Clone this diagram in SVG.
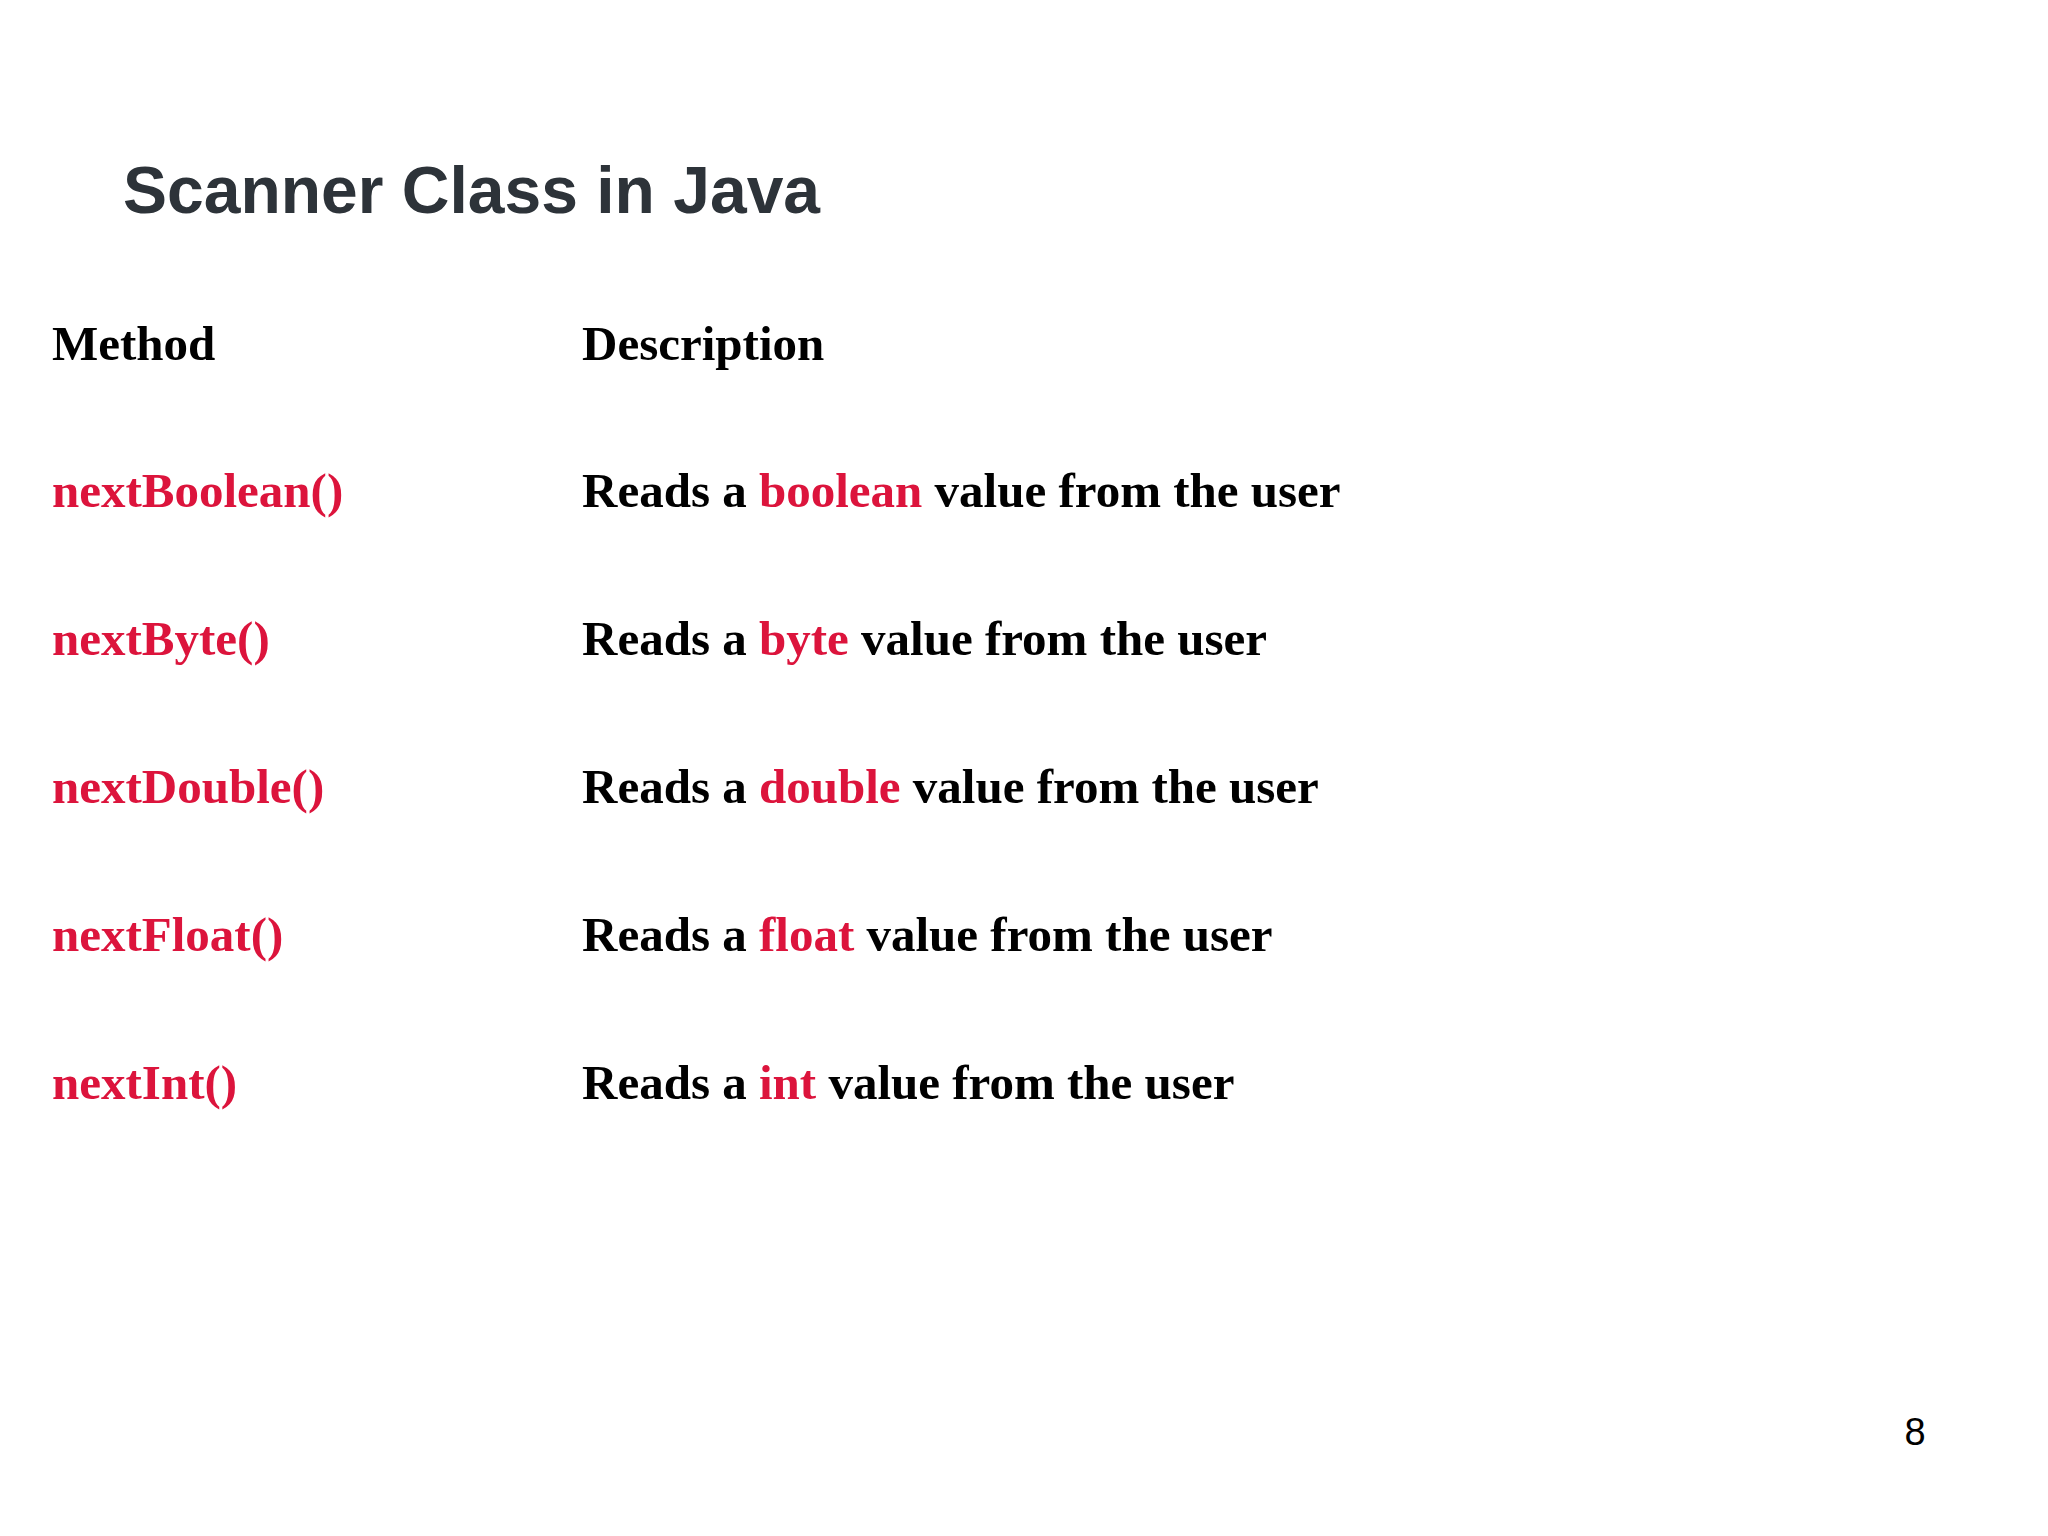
<svg xmlns="http://www.w3.org/2000/svg" width="2048" height="1536" viewBox="0 0 2048 1536">
<style>
.t{font-family:"Liberation Serif",serif;font-weight:bold;font-size:49px;fill:#000}
.r{fill:#dc143c}
</style>
<rect width="2048" height="1536" fill="#fff"/>
<text x="123" y="213" font-family="Liberation Sans,Arial,sans-serif" font-weight="bold" font-size="66" fill="#2d3339">Scanner Class in Java</text>
<g id="header"><text class="t" x="52" y="360">Method</text><text class="t" x="582" y="360">Description</text></g>
<g id="row1"><text class="t r" x="52" y="507">nextBoolean()</text><text class="t" x="582" y="507">Reads a <tspan class="r">boolean</tspan> value from the user</text></g>
<g id="row2"><text class="t r" x="52" y="655">nextByte()</text><text class="t" x="582" y="655">Reads a <tspan class="r">byte</tspan> value from the user</text></g>
<g id="row3"><text class="t r" x="52" y="803">nextDouble()</text><text class="t" x="582" y="803">Reads a <tspan class="r">double</tspan> value from the user</text></g>
<g id="row4"><text class="t r" x="52" y="951">nextFloat()</text><text class="t" x="582" y="951">Reads a <tspan class="r">float</tspan> value from the user</text></g>
<g id="row5"><text class="t r" x="52" y="1099">nextInt()</text><text class="t" x="582" y="1099">Reads a <tspan class="r">int</tspan> value from the user</text></g>
<g id="connectors"/>
<text x="1915" y="1445" text-anchor="middle" font-family="Liberation Sans,Arial,sans-serif" font-size="38" fill="#000">8</text>
</svg>
